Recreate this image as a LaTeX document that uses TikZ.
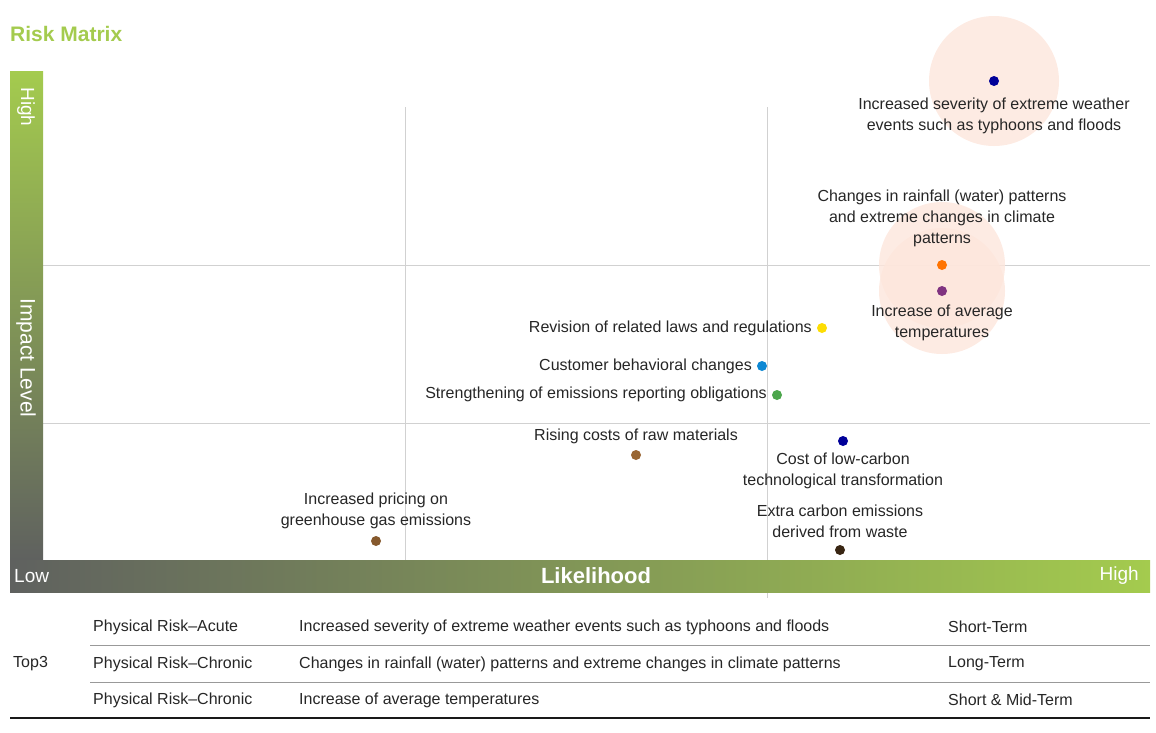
\documentclass[tikz,border=0pt]{standalone}
\usepackage{fontspec}
\setmainfont{Liberation Sans}
\definecolor{lg}{HTML}{A4CB4E}
\definecolor{dg}{HTML}{5F615F}
\definecolor{halo}{HTML}{FDE6DC}
\begin{document}
\begin{tikzpicture}[x=1pt,y=-1pt,
  lbl/.style={font=\fontsize{16}{21}\selectfont,text=black!85,align=center,inner sep=0},
  tbl/.style={font=\fontsize{16}{20}\selectfont,text=black!85,anchor=west,inner sep=0},
  dot/.style={circle,inner sep=0,minimum size=10},
  grid/.style={draw=black!18,line width=0.8}]
\useasboundingbox (0,0) rectangle (1156,732);
\node[anchor=west,text=lg,font=\fontsize{21}{24}\selectfont\bfseries,inner sep=0] (title) at (10,34) {Risk Matrix};
% grid
\draw[grid] (405,107) -- (405,560);
\draw[grid] (767,107) -- (767,598);
\draw[grid] (43,265) -- (1150,265);
\draw[grid] (43,423) -- (1150,423);
% halos
\fill[halo,opacity=0.8] (994,81) circle (65);
\fill[halo,opacity=0.8] (942,265) circle (63);
\fill[halo,opacity=0.8] (942,291) circle (63);
% bars
\shade[top color=lg,bottom color=dg] (10,71) rectangle (43,560);
\shade[left color=dg,right color=lg] (10,560) rectangle (1150,592);
\node[rotate=-90,text=white,font=\fontsize{19}{22}\selectfont] (hi) at (26,107) {High};
\node[rotate=-90,text=white,font=\fontsize{21}{24}\selectfont] (il) at (26,358) {Impact Level};
\node[anchor=west,text=white,font=\fontsize{19}{22}\selectfont,inner sep=0] (lo) at (14,576) {Low};
\node[text=white,font=\fontsize{22}{24}\selectfont\bfseries] (lk) at (596,576) {Likelihood};
\node[anchor=east,text=white,font=\fontsize{19}{22}\selectfont,inner sep=0] (hx) at (1139,576) {High};
% dots
\node[dot,fill=blue!60!black] (d1) at (994,81) {};
\node[dot,fill=orange!90!red] (d2) at (942,265) {};
\node[dot,fill=violet!60!gray] (d3) at (942,291) {};
\node[dot,fill=yellow!80!orange] (d4) at (822,328) {};
\node[dot,fill=cyan!70!blue] (d5) at (762,366) {};
\node[dot,fill=green!50!black!70] (d6) at (777,395) {};
\node[dot,fill=blue!60!black] (d7) at (843,441) {};
\node[dot,fill=brown!80!black] (d8) at (636,455) {};
\node[dot,fill=brown!70!black] (d9) at (376,541) {};
\node[dot,fill=black!70!brown] (d10) at (840,550) {};
% labels
\node[lbl] (l1) at (994,116) {Increased severity of extreme weather\\events such as typhoons and floods};
\node[lbl] (l2) at (942,218) {Changes in rainfall (water) patterns\\and extreme changes in climate\\patterns};
\node[lbl] (l3) at (942,323) {Increase of average\\temperatures};
\node[lbl,anchor=east] (l4) at (812,328) {Revision of related laws and regulations};
\node[lbl,anchor=east] (l5) at (752,366) {Customer behavioral changes};
\node[lbl,anchor=east] (l6) at (767,394) {Strengthening of emissions reporting obligations};
\node[lbl] (l7) at (636,436) {Rising costs of raw materials};
\node[lbl] (l8) at (843,471) {Cost of low-carbon\\technological transformation};
\node[lbl] (l9) at (376,511) {Increased pricing on\\greenhouse gas emissions};
\node[lbl] (l10) at (840,521) {Extra carbon emissions\\derived from waste};
% table
\draw[black!40,line width=0.8] (90,645) -- (1150,645);
\draw[black!40,line width=0.8] (90,682) -- (1150,682);
\draw[black!90,line width=2] (10,718) -- (1150,718);
\node[tbl] (t0) at (13,664) {Top3};
\node[tbl] (a1) at (93,627) {Physical Risk–Acute};
\node[tbl] (a2) at (299,627) {Increased severity of extreme weather events such as typhoons and floods};
\node[tbl] (a3) at (948,627) {Short-Term};
\node[tbl] (b1) at (93,664) {Physical Risk–Chronic};
\node[tbl] (b2) at (299,664) {Changes in rainfall (water) patterns and extreme changes in climate patterns};
\node[tbl] (b3) at (948,664) {Long-Term};
\node[tbl] (c1) at (93,700) {Physical Risk–Chronic};
\node[tbl] (c2) at (299,700) {Increase of average temperatures};
\node[tbl] (c3) at (948,700) {Short \& Mid-Term};
\end{tikzpicture}
\end{document}
